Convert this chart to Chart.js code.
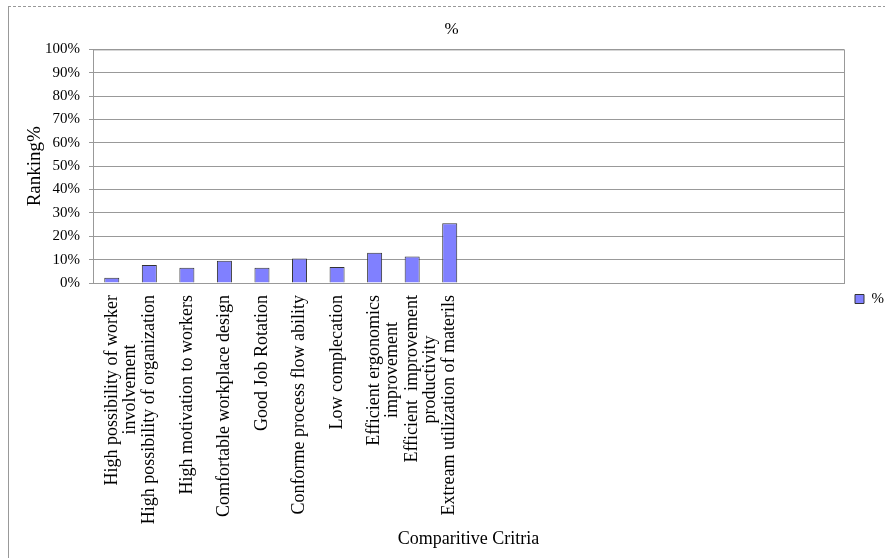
<!DOCTYPE html>
<html lang="en">
<head>
<meta charset="UTF-8">
<title>Comparitive Critria</title>
<script src="https://cdn.jsdelivr.net/npm/chart.js"></script>
<style>
    body { margin: 0; background: #fff; }
    .wrap {
        position: absolute;
        left: 8px;
        top: 6px;
        width: 877px;
        height: 552px;
        border-left: 1px solid #999;
        border-top: 1px dashed #999;
        overflow: hidden;
    }
</style>
</head>
<body>
<div class="wrap">
    <canvas id="chart"></canvas>
</div>
<script>
// data
const categories = [
    ['High possibility of worker', 'involvement'],
    'High possibility of organization',
    'High motivation to workers',
    'Comfortable workplace design',
    'Good Job Rotation',
    'Conforme process flow ability',
    'Low complecation',
    ['Efficient ergonomics', 'improvement'],
    ['Efficient  improvement', 'productivity'],
    'Extream utilization of materils',
    '', '', '', '', '', '', '', '', '', ''
];
const values = [2.3, 7.7, 6.5, 9.5, 6.5, 10.5, 6.8, 13.0, 11.3, 25.6];
const yTicks = [0, 10, 20, 30, 40, 50, 60, 70, 80, 90, 100];
const seriesName = '%';

const serif = '"Liberation Serif", "Times New Roman", serif';
const labelSize = 18;

// Excel centres wrapped lines; Chart.js right-aligns rotated lines, so pad the shorter ones
const measure = document.createElement('canvas').getContext('2d');
measure.font = labelSize + 'px ' + serif;
const spaceW = measure.measureText(' ').width;
const labels = categories.map(c => {
    if (!Array.isArray(c)) return c;
    const widest = Math.max(...c.map(l => measure.measureText(l).width));
    return c.map(l => {
        const n = Math.round((widest - measure.measureText(l).width) / 2 / spaceW);
        return l + ' '.repeat(n);
    });
});

// outline of the plot area
const areaBorder = {
    id: 'areaBorder',
    afterDraw(chart) {
        const {ctx, chartArea: a} = chart;
        ctx.save();
        ctx.strokeStyle = '#999';
        ctx.lineWidth = 1;
        ctx.strokeRect(a.left + 0.5, a.top + 0.5, a.right - a.left, a.bottom - a.top);
        ctx.restore();
    }
};

new Chart(document.getElementById('chart'), {
    type: 'bar',
    data: {
        labels: labels,
        datasets: [{
            label: seriesName,
            data: values,
            backgroundColor: '#8080ff',
            borderColor: '#333',
            borderWidth: 1,
            categoryPercentage: 0.8,
            barPercentage: 0.5
        }]
    },
    options: {
        responsive: true,
        maintainAspectRatio: false,
        animation: false,
        layout: { padding: { right: -8 } },
        plugins: {
            title: {
                display: true,
                text: '%',
                color: '#000',
                font: { family: serif, size: 17, weight: 'normal' },
                padding: { top: 12, bottom: 10 }
            },
            legend: {
                position: 'right',
                title: {
                    display: true,
                    text: ' ',
                    font: { size: 10 },
                    padding: { top: 20, bottom: 0 }
                },
                labels: {
                    boxWidth: 9,
                    boxHeight: 9,
                    padding: 11,
                    color: '#000',
                    font: { family: serif, size: 15 }
                }
            },
            tooltip: { enabled: false }
        },
        scales: {
            x: {
                grid: { display: false, drawTicks: false },
                border: { color: '#999' },
                afterFit(scale) {
                    scale.paddingLeft = 0;
                    scale.paddingRight = 0;
                },
                ticks: {
                    autoSkip: false,
                    minRotation: 90,
                    maxRotation: 90,
                    padding: 12,
                    color: '#000',
                    font: { family: serif, size: labelSize, lineHeight: 1.0 }
                },
                title: {
                    display: true,
                    text: 'Comparitive Critria',
                    color: '#000',
                    font: { family: serif, size: 18 },
                    padding: { top: 4, bottom: 9 }
                }
            },
            y: {
                min: 0,
                max: 100,
                afterBuildTicks(scale) {
                    scale.ticks = yTicks.map(v => ({ value: v }));
                },
                afterFit(scale) {
                    scale.width = 84;
                },
                grid: { color: '#999', tickLength: 4 },
                border: { color: '#999' },
                ticks: {
                    padding: 9,
                    color: '#000',
                    font: { family: serif, size: 15 },
                    callback: v => v + '%'
                },
                title: {
                    display: true,
                    text: 'Ranking%',
                    color: '#000',
                    font: { family: serif, size: 19 },
                    padding: { top: 15, bottom: 1 }
                }
            }
        }
    },
    plugins: [areaBorder]
});
</script>
</body>
</html>
